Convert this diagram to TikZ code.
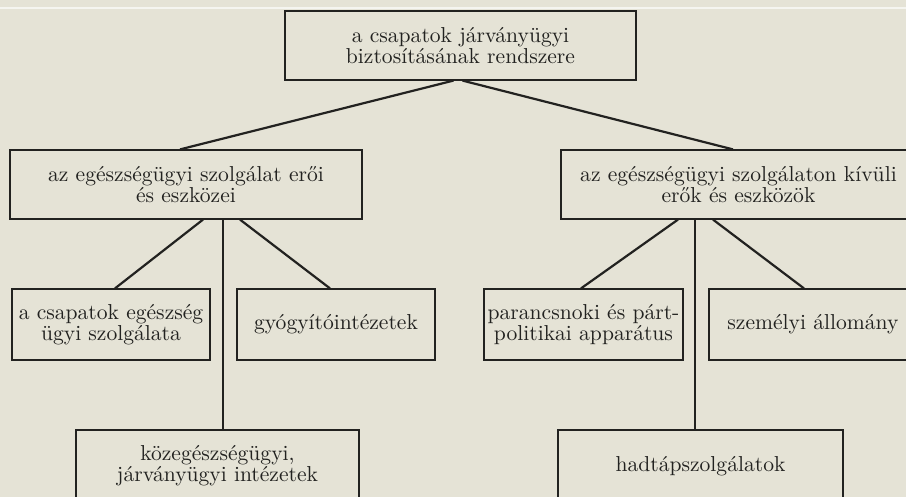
\documentclass[tikz,border=0pt]{standalone}
\usepackage{fontspec}
\definecolor{paper}{RGB}{229,227,214}
\definecolor{ink}{RGB}{34,34,32}
\definecolor{scanline}{RGB}{245,245,240}
\tikzset{
    box/.style={draw=ink, line width=0.6pt, text=ink, align=center,
        inner sep=0pt, font=\fontsize{10.8}{10.6}\selectfont},
    link/.style={draw=ink, line width=1.1pt}
}
\begin{document}
\begin{tikzpicture}[x=0.5pt, y=-0.5pt]

    % Fix the page to the size of the scan and fill the paper
    \useasboundingbox (0,0) rectangle (906,497);
    \clip (0,0) rectangle (906,497);
    \fill[paper] (0,0) rectangle (906,497);
    \draw[scanline, line width=0.6pt] (0,8) -- (906,8);

    % Top of the tree
    \node[box, minimum width=175.5pt, minimum height=34.5pt] (rendszer) at (460.5,45.5)
        {a csapatok járványügyi\\biztosításának rendszere};

    % Second level
    \node[box, minimum width=176pt, minimum height=34.5pt] (eroi) at (186,184.5)
        {az egészségügyi szolgálat erői\\és eszközei};
    \node[box, minimum width=177.5pt, minimum height=34.5pt] (kivuli) at (738.5,184.5)
        {az egészségügyi szolgálaton kívüli\\erők és eszközök};

    % Third level
    \node[box, minimum width=99pt, minimum height=35.5pt] (csapat) at (111,324.5)
        {a csapatok egészség\\ügyi szolgálata};
    \node[box, minimum width=99pt, minimum height=35.5pt] (gyogy) at (336,324.5)
        {gyógyítóintézetek};
    \node[box, minimum width=99.5pt, minimum height=35.5pt] (parancs) at (583.5,324.5)
        {parancsnoki és párt-\\politikai apparátus};
    \node[box, minimum width=104pt, minimum height=35.5pt] (allomany) at (813,324.5)
        {személyi állomány};

    % Bottom level (cut by the lower edge)
    \node[box, minimum width=141.5pt, minimum height=36pt] (kozeg) at (217.5,466)
        {közegészségügyi,\\járványügyi intézetek};
    \node[box, minimum width=142.5pt, minimum height=36pt] (hadtap) at (700.5,466)
        {hadtápszolgálatok};

    % Connectors from the top box
    \draw[link] ([xshift=-3.5pt]rendszer.south) -- ([xshift=-3pt]eroi.north);
    \draw[link] ([xshift=1pt]rendszer.south) -- ([xshift=-2.75pt]kivuli.north);

    % Connectors on the left
    \draw[link] ([xshift=8.5pt]eroi.south) -- ([xshift=2pt]csapat.north);
    \draw[link] ([xshift=18.5pt]eroi.south) -- ([xshift=2.75pt]kozeg.north);
    \draw[link] ([xshift=27pt]eroi.south) -- ([xshift=-3pt]gyogy.north);

    % Connectors on the right
    \draw[link] ([xshift=-30.25pt]kivuli.south) -- ([xshift=-1.25pt]parancs.north);
    \draw[link] ([xshift=-21.75pt]kivuli.south) -- ([xshift=-2.75pt]hadtap.north);
    \draw[link] ([xshift=-12.75pt]kivuli.south) -- ([xshift=-4.5pt]allomany.north);

\end{tikzpicture}
\end{document}
